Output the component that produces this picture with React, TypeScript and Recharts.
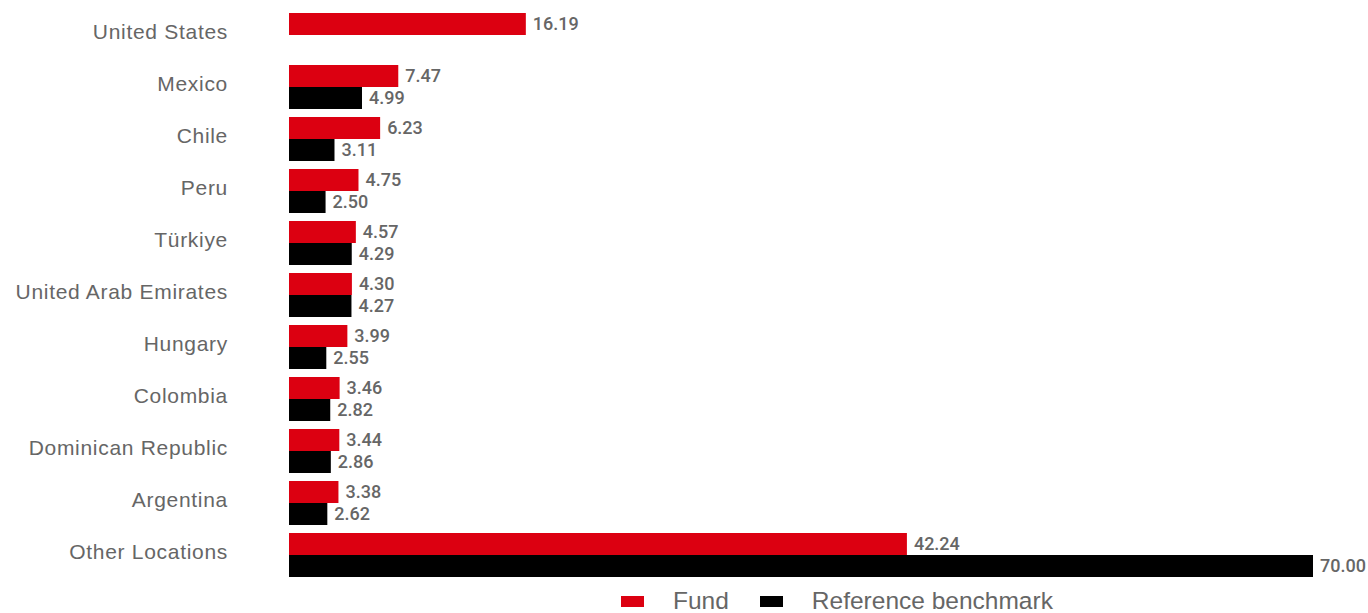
import { BarChart, Bar, XAxis, YAxis, Legend, LabelList } from 'recharts'

const categories = [
  'United States',
  'Mexico',
  'Chile',
  'Peru',
  'Türkiye',
  'United Arab Emirates',
  'Hungary',
  'Colombia',
  'Dominican Republic',
  'Argentina',
  'Other Locations',
]
const fundValues = [16.19, 7.47, 6.23, 4.75, 4.57, 4.3, 3.99, 3.46, 3.44, 3.38, 42.24]
const benchmarkValues = [null, 4.99, 3.11, 2.5, 4.29, 4.27, 2.55, 2.82, 2.86, 2.62, 70.0]

const RED = '#dc0011'
const BLACK = '#000000'
const GREY = '#666666'
const FONT = '"Liberation Sans", Arial, sans-serif'
const VALUE_FONT = 'Roboto, "Liberation Sans", Arial, sans-serif'

const data = categories.map((name, i) => ({
  name,
  fund: fundValues[i],
  benchmark: benchmarkValues[i],
}))

const fmt = (v: unknown) => (v == null ? '' : Number(v).toFixed(2))

const valueStyle = { fill: GREY, fontSize: 18, fontWeight: 500, fontFamily: VALUE_FONT }

// Plain legend: small flat swatches with grey text
function ChartLegend() {
  const items = [
    { label: 'Fund', color: RED },
    { label: 'Reference benchmark', color: BLACK },
  ]
  return (
    <div style={{ display: 'flex', alignItems: 'center', height: 24, fontFamily: FONT }}>
      {items.map((it) => (
        <div key={it.label} style={{ display: 'flex', alignItems: 'center', marginRight: 31 }}>
          <span style={{ width: 23, height: 11, background: it.color, display: 'inline-block', marginRight: 29 }} />
          <span style={{ fontSize: 24.5, color: GREY, lineHeight: '24px', whiteSpace: 'nowrap' }}>{it.label}</span>
        </div>
      ))}
    </div>
  )
}

export default function App() {
  return (
    <div style={{ position: 'absolute', left: 0, top: 0, background: '#fff' }}>
      <BarChart
        width={1368}
        height={613}
        data={data}
        layout="vertical"
        margin={{ top: 9, right: 55, bottom: 8, left: 0 }}
        barCategoryGap={4}
        barGap={0}
      >
        <XAxis type="number" domain={[0, 70]} hide />
        <YAxis
          type="category"
          dataKey="name"
          width={289}
          axisLine={false}
          tickLine={false}
          tickSize={0}
          tickMargin={61}
          dy={-3}
          tick={{ fill: GREY, fontSize: 21, fontFamily: FONT, letterSpacing: 0.7 }}
        />
        <Legend
          verticalAlign="bottom"
          content={<ChartLegend />}
          wrapperStyle={{ left: 621, bottom: 0, width: 'auto' }}
        />
        <Bar dataKey="fund" name="Fund" fill={RED} barSize={22} isAnimationActive={false}>
          <LabelList dataKey="fund" position="right" offset={7} formatter={fmt} style={valueStyle} />
        </Bar>
        <Bar dataKey="benchmark" name="Reference benchmark" fill={BLACK} barSize={22} isAnimationActive={false}>
          <LabelList dataKey="benchmark" position="right" offset={7} formatter={fmt} style={valueStyle} />
        </Bar>
      </BarChart>
    </div>
  )
}
